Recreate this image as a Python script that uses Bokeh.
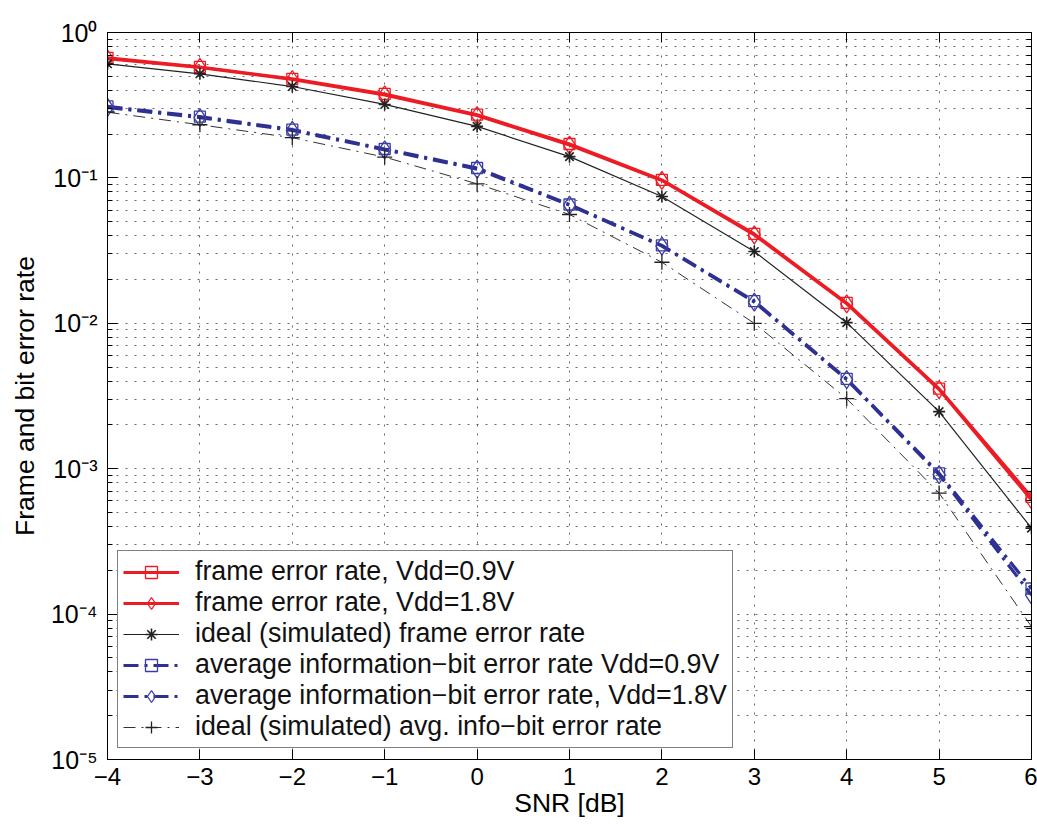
import math
from bokeh.plotting import figure
from bokeh.models import (FixedTicker, LogAxis, LinearAxis, CustomJSTickFormatter,
                          Legend, LegendItem)
from bokeh.embed import file_html
from bokeh.resources import INLINE

# ---------------- data ----------------
snr = [-4, -3, -2, -1, 0, 1, 2, 3, 4, 5, 6]
fer_vdd09 = [0.67, 0.58, 0.48, 0.378, 0.272, 0.171, 0.097, 0.0412, 0.0138, 0.00355, 0.00064]
fer_vdd18 = [0.66, 0.575, 0.475, 0.372, 0.268, 0.168, 0.096, 0.0405, 0.0136, 0.0035, 0.00061]
fer_ideal = [0.609, 0.52, 0.425, 0.32, 0.226, 0.140, 0.0745, 0.0312, 0.0101, 0.00247, 0.00039]
ber_vdd09 = [0.31, 0.264, 0.215, 0.158, 0.117, 0.0656, 0.0343, 0.0142, 0.00415, 0.00093, 0.00015]
ber_vdd18 = [0.305, 0.26, 0.212, 0.156, 0.115, 0.065, 0.034, 0.0140, 0.0041, 0.00091, 0.000135]
ber_ideal = [0.283, 0.232, 0.189, 0.139, 0.091, 0.056, 0.0263, 0.0100, 0.00303, 0.00068, 0.000082]

legend_labels = [
    "frame error rate, Vdd=0.9V",
    "frame error rate, Vdd=1.8V",
    "ideal (simulated) frame error rate",
    "average information\u2212bit error rate Vdd=0.9V",
    "average information\u2212bit error rate, Vdd=1.8V",
    "ideal (simulated) avg. info\u2212bit error rate",
]
x_ticks = [-4, -3, -2, -1, 0, 1, 2, 3, 4, 5, 6]
y_exponents = [-5, -4, -3, -2, -1, 0]
x_label = "SNR [dB]"
y_label = "Frame and bit error rate"

FONT = "Liberation Sans"
RED = "#ED1C24"
BLUE = "#2E3192"

y_major = [10.0 ** e for e in y_exponents]
y_minor = [m * 10.0 ** e for e in y_exponents[:-1] for m in range(2, 10)]

p = figure(frame_width=924, frame_height=727, y_axis_type="log",
           x_range=(-4, 6), y_range=(1e-5, 1),
           output_backend="svg", toolbar_location=None,
           min_border_left=107, min_border_right=6,
           min_border_top=32, min_border_bottom=66,
           background_fill_color="white", border_fill_color="white")
p.outline_line_color = "black"
p.outline_line_width = 1

blank = CustomJSTickFormatter(code="return '';")
xfmt = CustomJSTickFormatter(code="return tick < 0 ? '\\u2212' + Math.abs(tick) : String(tick);")
yfmt = CustomJSTickFormatter(code=r"""
const sup = {'0': '\u2070', '1': '\u00b9', '2': '\u00b2', '3': '\u00b3', '4': '\u2074',
             '5': '\u2075', '6': '\u2076', '7': '\u2077', '8': '\u2078', '9': '\u2079', '-': '\u207b'};
const e = Math.round(Math.log10(tick));
return '10' + String(e).split('').map((c) => sup[c]).join('');
""")

yt = FixedTicker(ticks=y_major, minor_ticks=y_minor)
xt = FixedTicker(ticks=x_ticks, minor_ticks=[])

def style_axis(ax):
    ax.axis_line_color = "black"
    ax.major_tick_line_color = "black"
    ax.minor_tick_line_color = "black"
    ax.major_tick_in = 10
    ax.major_tick_out = 0
    ax.minor_tick_in = 5
    ax.minor_tick_out = 0

# left axis
ly = p.yaxis[0]
ly.ticker = yt
ly.formatter = yfmt
style_axis(ly)
ly.major_label_text_font = FONT
ly.major_label_text_font_size = "25px"
ly.major_label_text_color = "black"
ly.major_label_standoff = 10
ly.axis_label = y_label
ly.axis_label_text_font = FONT
ly.axis_label_text_font_size = "26.5px"
ly.axis_label_text_font_style = "normal"
ly.axis_label_text_color = "black"
ly.axis_label_standoff = 8

# bottom axis
bx = p.xaxis[0]
bx.ticker = xt
bx.formatter = xfmt
style_axis(bx)
bx.major_label_text_font = FONT
bx.major_label_text_font_size = "24px"
bx.major_label_text_color = "black"
bx.major_label_standoff = 8
bx.axis_label = x_label
bx.axis_label_text_font = FONT
bx.axis_label_text_font_size = "26.5px"
bx.axis_label_text_font_style = "normal"
bx.axis_label_text_color = "black"
bx.axis_label_standoff = 0

# right & top axes (box)
ra = LogAxis(ticker=yt, formatter=blank, major_label_standoff=0)
style_axis(ra)
p.add_layout(ra, "right")
ta = LinearAxis(ticker=xt, formatter=blank, major_label_standoff=0)
style_axis(ta)
p.add_layout(ta, "above")

# grid
for g in (p.xgrid[0], p.ygrid[0]):
    g.grid_line_color = "#444444"
    g.grid_line_dash = "2 7"
    g.grid_line_width = 1
    g.grid_line_alpha = 0.8
p.ygrid[0].minor_grid_line_color = "#444444"
p.ygrid[0].minor_grid_line_dash = "2 7"
p.ygrid[0].minor_grid_line_alpha = 0.8

# ---------------- series ----------------
items = []

l1 = p.line(snr, fer_vdd09, line_color=RED, line_width=3)
m1 = p.scatter(snr, fer_vdd09, marker="square", size=11, line_color=RED, line_width=1.3, fill_color=None)
items.append(LegendItem(label=legend_labels[0], renderers=[l1, m1]))

l2 = p.line(snr, fer_vdd18, line_color=RED, line_width=3)
m2 = p.scatter(snr, fer_vdd18, marker="diamond", size=18, line_color=RED, line_width=1.3, fill_color=None)
items.append(LegendItem(label=legend_labels[1], renderers=[l2, m2]))

l3 = p.line(snr, fer_ideal, line_color="#222222", line_width=1.2)
m3 = p.scatter(snr, fer_ideal, marker="asterisk", size=12, line_color="#222222", line_width=1.6)
items.append(LegendItem(label=legend_labels[2], renderers=[l3, m3]))

l4 = p.line(snr, ber_vdd09, line_color=BLUE, line_width=3.2, line_dash="15 6 3 6")
m4 = p.scatter(snr, ber_vdd09, marker="square", size=11, line_color="#3B3FA0", line_width=1.3, fill_color=None)
items.append(LegendItem(label=legend_labels[3], renderers=[l4, m4]))

l5 = p.line(snr, ber_vdd18, line_color=BLUE, line_width=3.2, line_dash="15 6 3 6")
m5 = p.scatter(snr, ber_vdd18, marker="diamond", size=18, line_color="#3B3FA0", line_width=1.3, fill_color=None)
items.append(LegendItem(label=legend_labels[4], renderers=[l5, m5]))

l6 = p.line(snr, ber_ideal, line_color="#333333", line_width=1, line_dash="12 6 2 6")
m6 = p.scatter(snr, ber_ideal, marker="cross", size=15, line_color="#222222", line_width=1.3)
items.append(LegendItem(label=legend_labels[5], renderers=[l6, m6]))

legend = Legend(items=items, location=(10, 11))
legend.label_text_font = FONT
legend.label_text_font_size = "26.8px"
legend.label_text_line_height = 1.0
legend.label_text_color = "#111111"
legend.glyph_width = 56
legend.glyph_height = 30
legend.label_height = 30
legend.label_standoff = 16
legend.padding = 5
legend.spacing = 0
legend.border_line_color = "black"
legend.border_line_width = 1.5
legend.background_fill_color = "white"
legend.background_fill_alpha = 1
p.add_layout(legend)

with open("out.html", "w", encoding="utf-8") as f:
    f.write(file_html(p, INLINE))
